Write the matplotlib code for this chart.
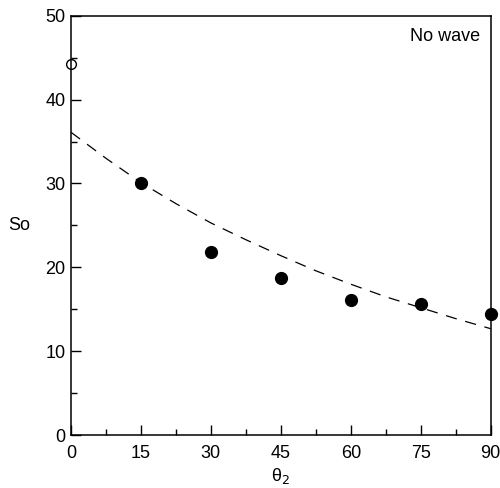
import matplotlib
matplotlib.use('Agg')
import matplotlib.pyplot as plt
from matplotlib.ticker import MultipleLocator

plt.rcParams['font.family'] = ['Liberation Sans', 'DejaVu Sans']

# measured points
theta_open = [0]
so_open = [44.2]
theta_filled = [15, 30, 45, 60, 75, 90]
so_filled = [30.1, 21.8, 18.7, 16.1, 15.6, 14.5]

# dashed fit curve
theta_fit = [0, 7.5, 15, 22.5, 30, 37.5, 45, 52.5, 60, 67.5, 75, 82.5, 90]
so_fit = [36.1, 33.0, 30.1, 27.6, 25.3, 23.3, 21.4, 19.6, 18.0, 16.5, 15.2, 13.9, 12.7]

fig = plt.figure(figsize=(5.0, 4.88), dpi=100)
ax = fig.add_axes([0.142, 0.108, 0.8394, 0.86])

ax.plot(theta_fit, so_fit, color='black', lw=0.9, ls=(0, (9, 7)))
ax.plot(theta_filled, so_filled, 'o', color='black', ms=8.5, clip_on=False, zorder=5)
ax.plot(theta_open, so_open, 'o', mfc='none', mec='black', mew=1.0, ms=7, clip_on=False, zorder=5)

ax.set_xlim(0, 90)
ax.set_ylim(0, 50)
ax.xaxis.set_major_locator(MultipleLocator(15))
ax.xaxis.set_minor_locator(MultipleLocator(7.5))
ax.yaxis.set_major_locator(MultipleLocator(10))
ax.yaxis.set_minor_locator(MultipleLocator(5))
ax.tick_params(which='both', direction='in', top=False, right=False, labelsize=13, width=1.0)
ax.tick_params(which='major', length=7.5)
ax.tick_params(which='minor', length=4.3)
ax.tick_params(axis='x', pad=7)
ax.tick_params(axis='y', pad=4)
for s in ax.spines.values():
    s.set_linewidth(1.1)

ax.set_ylabel('So', fontsize=13, rotation=0, labelpad=19, va='center')
ax.set_xlabel('θ$_2$', fontsize=13, labelpad=3)
ax.text(0.975, 0.95, 'No wave', transform=ax.transAxes, ha='right', va='center', fontsize=13)

fig.savefig('out.png', dpi=100)
